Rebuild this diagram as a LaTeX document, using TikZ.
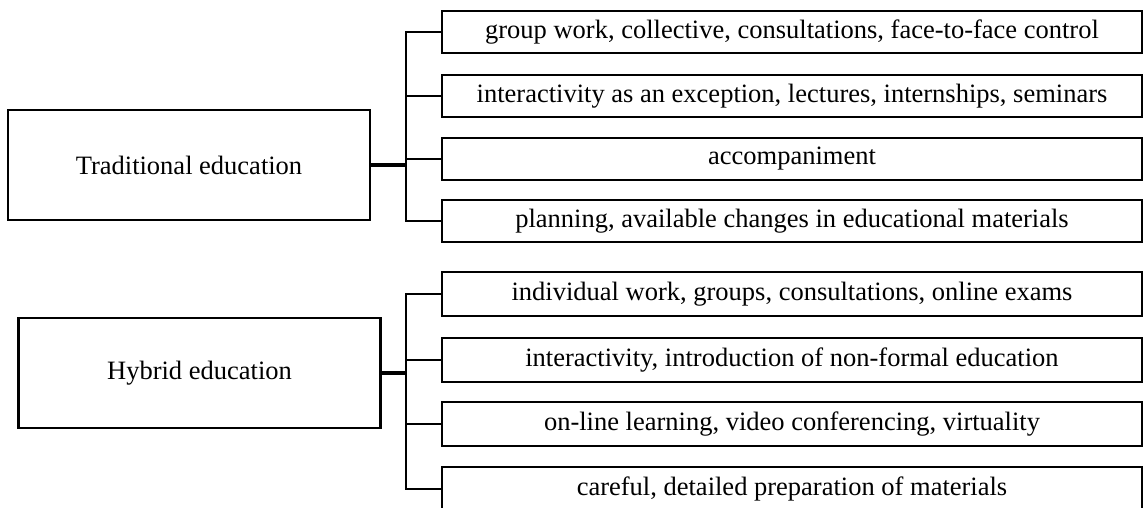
\documentclass[tikz,border=0pt]{standalone}
\usepackage{fontspec}
\setmainfont{Liberation Serif}
\usetikzlibrary{positioning}

\begin{document}
\begin{tikzpicture}[x=1pt, y=1pt, line width=2.2pt,
    kind/.style={draw, minimum width=362pt, minimum height=110pt, inner sep=0pt, font=\fontsize{26.5}{30}\selectfont},
    item/.style={draw, minimum width=700pt, inner sep=0pt, font=\fontsize{26.5}{30}\selectfont},
    stem/.style={line width=3.4pt}]
    \useasboundingbox (0,0) rectangle (1144,508);
    \clip (0,0) rectangle (1144,508);
    % traditional
    \node[kind] (trad) at (189, 343) {Traditional education};
    \node[item, minimum height=42pt] (t1) at (792, 476) {group work, collective, consultations, face-to-face control};
    \node[item, minimum height=42pt] (t2) at (792, 412) {interactivity as an exception, lectures, internships, seminars};
    \node[item, minimum height=42pt] (t3) at (792, 349) {accompaniment};
    \node[item, minimum height=42pt] (t4) at (792, 287) {planning, available changes in educational materials};
    % hybrid
    \node[kind] (hyb) at (199.5, 135) {Hybrid education};
    \node[item, minimum height=44pt] (h1) at (792, 214) {individual work, groups, consultations, online exams};
    \node[item, minimum height=44pt] (h2) at (792, 148) {interactivity, introduction of non-formal education};
    \node[item, minimum height=44pt] (h3) at (792, 84) {on-line learning, video conferencing, virtuality};
    \node[item, minimum height=44pt] (h4) at (792, 19) {careful, detailed preparation of materials};
    \coordinate (tj) at (406, 343);
    \coordinate (hj) at (406, 135);
    \draw[stem] (trad) -- (tj);
    \draw[stem] (hyb) -- (hj);
    \draw (t1.west) -- (t1.west -| tj) -- (t4.west -| tj) -- (t4.west);
    \draw (h1.west) -- (h1.west -| hj) -- (h4.west -| hj) -- (h4.west);
    \foreach \b in {t2,t3}
        \draw (\b.west) -- (\b.west -| tj);
    \foreach \b in {h2,h3}
        \draw (\b.west) -- (\b.west -| hj);
\end{tikzpicture}
\end{document}
